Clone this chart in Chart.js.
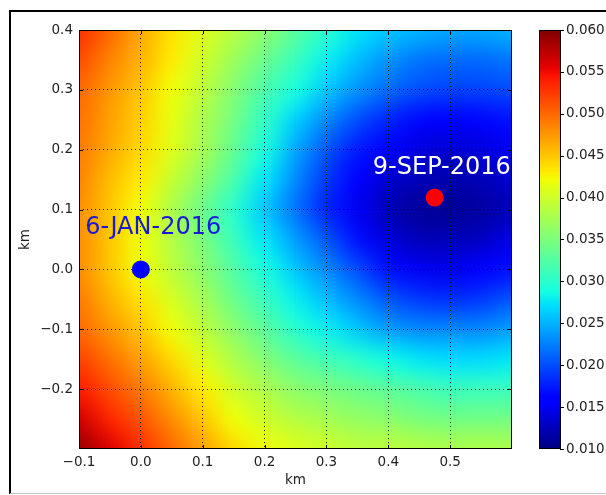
<!DOCTYPE html>
<html lang="en">
<head>
<meta charset="UTF-8">
<title>Field map</title>
<script src="https://cdn.jsdelivr.net/npm/chart.js"></script>
<style>
  body { margin: 0; background: #fff; overflow: hidden; }
  .frame { position: absolute; left: 9px; top: 10px; width: 595px; height: 481px; border-left: 2px solid #000; border-top: 2px solid #000; border-bottom: 1px solid #c8c8c8; }
  #chart { position: absolute; left: 0; top: 0; }
</style>
</head>
<body>
<div class="frame"></div>
<canvas id="chart" width="606" height="495"></canvas>
<script>
// grid nodes of the field (km)
const gridX = [-0.1, -0.05, 0.0, 0.05, 0.1, 0.15, 0.2, 0.25, 0.3, 0.35, 0.4, 0.45, 0.5, 0.55, 0.6];
const gridY = [0.4, 0.35, 0.3, 0.25, 0.2, 0.15, 0.1, 0.05, 0.0, -0.05, -0.1, -0.15, -0.2, -0.25, -0.3];
// values, one row per gridY, one column per gridX
const fieldValues = [
  [0.0530, 0.0500, 0.0465, 0.0435, 0.0410, 0.0385, 0.0360, 0.0330, 0.0300, 0.0275, 0.0260, 0.0250, 0.0245, 0.0245, 0.0250],
  [0.0515, 0.0485, 0.0460, 0.0430, 0.0400, 0.0370, 0.0340, 0.0310, 0.0280, 0.0255, 0.0235, 0.0220, 0.0215, 0.0215, 0.0220],
  [0.0500, 0.0475, 0.0450, 0.0420, 0.0390, 0.0355, 0.0320, 0.0290, 0.0260, 0.0235, 0.0215, 0.0200, 0.0195, 0.0195, 0.0200],
  [0.0495, 0.0470, 0.0445, 0.0415, 0.0380, 0.0345, 0.0305, 0.0265, 0.0230, 0.0200, 0.0180, 0.0165, 0.0160, 0.0165, 0.0170],
  [0.0490, 0.0465, 0.0440, 0.0410, 0.0375, 0.0335, 0.0290, 0.0245, 0.0205, 0.0175, 0.0155, 0.0140, 0.0135, 0.0140, 0.0150],
  [0.0485, 0.0455, 0.0430, 0.0395, 0.0360, 0.0320, 0.0275, 0.0230, 0.0190, 0.0160, 0.0135, 0.0125, 0.0120, 0.0125, 0.0135],
  [0.0480, 0.0450, 0.0420, 0.0380, 0.0340, 0.0300, 0.0260, 0.0220, 0.0180, 0.0150, 0.0125, 0.0112, 0.0110, 0.0115, 0.0125],
  [0.0480, 0.0450, 0.0420, 0.0385, 0.0350, 0.0310, 0.0275, 0.0240, 0.0205, 0.0170, 0.0140, 0.0125, 0.0125, 0.0130, 0.0145],
  [0.0480, 0.0450, 0.0420, 0.0390, 0.0360, 0.0325, 0.0290, 0.0260, 0.0230, 0.0200, 0.0170, 0.0150, 0.0145, 0.0155, 0.0170],
  [0.0490, 0.0460, 0.0435, 0.0405, 0.0375, 0.0340, 0.0310, 0.0280, 0.0255, 0.0230, 0.0205, 0.0190, 0.0185, 0.0190, 0.0205],
  [0.0500, 0.0475, 0.0450, 0.0420, 0.0390, 0.0360, 0.0330, 0.0300, 0.0280, 0.0260, 0.0240, 0.0230, 0.0230, 0.0230, 0.0240],
  [0.0520, 0.0495, 0.0470, 0.0440, 0.0410, 0.0380, 0.0355, 0.0330, 0.0315, 0.0300, 0.0285, 0.0275, 0.0270, 0.0270, 0.0275],
  [0.0540, 0.0515, 0.0490, 0.0460, 0.0430, 0.0400, 0.0380, 0.0360, 0.0350, 0.0340, 0.0330, 0.0320, 0.0310, 0.0310, 0.0310],
  [0.0565, 0.0535, 0.0510, 0.0480, 0.0450, 0.0420, 0.0400, 0.0385, 0.0375, 0.0365, 0.0360, 0.0350, 0.0345, 0.0345, 0.0345],
  [0.0590, 0.0560, 0.0530, 0.0500, 0.0470, 0.0440, 0.0420, 0.0410, 0.0400, 0.0390, 0.0390, 0.0385, 0.0380, 0.0380, 0.0380]
];
const colorMin = 0.010;
const colorMax = 0.060;

const xTicks = [-0.1, 0.0, 0.1, 0.2, 0.3, 0.4, 0.5];
const yTicks = [-0.2, -0.1, 0.0, 0.1, 0.2, 0.3, 0.4];
const cbTicks = [0.010, 0.015, 0.020, 0.025, 0.030, 0.035, 0.040, 0.045, 0.050, 0.055, 0.060];

// marked sites and their labels
const pointX = [0.0, 0.475];
const pointY = [0.0, 0.12];
const pointColors = ['#0000ff', '#ff0000'];
const labelText = ['6-JAN-2016', '9-SEP-2016'];
const labelX = [-0.09, 0.375];
const labelY = [0.06, 0.16];
const labelColors = ['#1a1ad6', '#ffffff'];

const FONT = 'DejaVu Sans';

// matplotlib "jet"
function seg(pts, t) {
  for (let i = 1; i < pts.length; i++) {
    if (t <= pts[i][0]) {
      const a = pts[i - 1], b = pts[i];
      return a[1] + (b[1] - a[1]) * (t - a[0]) / (b[0] - a[0]);
    }
  }
  return pts[pts.length - 1][1];
}
function jet(v) {
  const t = Math.min(1, Math.max(0, (v - colorMin) / (colorMax - colorMin)));
  const r = seg([[0, 0], [0.35, 0], [0.66, 1], [0.89, 1], [1, 0.5]], t);
  const g = seg([[0, 0], [0.125, 0], [0.375, 1], [0.64, 1], [0.91, 0], [1, 0]], t);
  const b = seg([[0, 0.5], [0.11, 1], [0.34, 1], [0.65, 0], [1, 0]], t);
  return [Math.round(r * 255), Math.round(g * 255), Math.round(b * 255)];
}

function fmt(v, d) {
  return v.toFixed(d).replace('-', '\u2212');
}

const heatmap = {
  id: 'heatmap',
  beforeDraw(chart) {
    const {ctx, chartArea: a, scales: {x, y}} = chart;
    const nx = gridX.length, ny = gridY.length;
    const off = document.createElement('canvas');
    off.width = nx; off.height = ny;
    const octx = off.getContext('2d');
    const img = octx.createImageData(nx, ny);
    for (let j = 0; j < ny; j++) {
      for (let i = 0; i < nx; i++) {
        const c = jet(fieldValues[j][i]);
        const k = (j * nx + i) * 4;
        img.data[k] = c[0]; img.data[k + 1] = c[1]; img.data[k + 2] = c[2]; img.data[k + 3] = 255;
      }
    }
    octx.putImageData(img, 0, 0);
    const hx = (gridX[1] - gridX[0]) / 2, hy = (gridY[0] - gridY[1]) / 2;
    const left = x.getPixelForValue(gridX[0] - hx);
    const right = x.getPixelForValue(gridX[nx - 1] + hx);
    const top = y.getPixelForValue(gridY[0] + hy);
    const bottom = y.getPixelForValue(gridY[ny - 1] - hy);
    ctx.save();
    ctx.beginPath();
    ctx.rect(a.left, a.top, a.right - a.left, a.bottom - a.top);
    ctx.clip();
    ctx.imageSmoothingEnabled = true;
    ctx.imageSmoothingQuality = 'high';
    ctx.drawImage(off, left, top, right - left, bottom - top);
    ctx.restore();
  },
  afterDraw(chart) {
    const {ctx, chartArea: a, scales: {x, y, cb}} = chart;
    ctx.save();
    // axes frame + inward ticks
    ctx.strokeStyle = '#000';
    ctx.lineWidth = 1;
    ctx.strokeRect(a.left + 0.5, a.top + 0.5, a.right - a.left - 1, a.bottom - a.top - 1);
    ctx.beginPath();
    xTicks.forEach(v => {
      const px = Math.round(x.getPixelForValue(v)) + 0.5;
      ctx.moveTo(px, a.bottom); ctx.lineTo(px, a.bottom - 4);
      ctx.moveTo(px, a.top); ctx.lineTo(px, a.top + 4);
    });
    yTicks.forEach(v => {
      const py = Math.round(y.getPixelForValue(v)) + 0.5;
      ctx.moveTo(a.left, py); ctx.lineTo(a.left + 4, py);
      ctx.moveTo(a.right, py); ctx.lineTo(a.right - 4, py);
    });
    ctx.stroke();

    // colour bar
    const bx0 = cb.left + 27, bx1 = cb.left + 49;
    for (let py = Math.floor(cb.top); py < Math.ceil(cb.bottom); py++) {
      const c = jet(cb.getValueForPixel(py + 0.5));
      ctx.fillStyle = 'rgb(' + c.join(',') + ')';
      ctx.fillRect(bx0, py, bx1 - bx0, 1);
    }
    ctx.strokeRect(bx0 + 0.5, Math.round(cb.top) + 0.5, bx1 - bx0 - 1, Math.round(cb.bottom - cb.top) - 1);
    ctx.beginPath();
    cbTicks.forEach(v => {
      const py = Math.round(cb.getPixelForValue(v)) + 0.5;
      ctx.moveTo(bx1 - 1, py); ctx.lineTo(bx1 + 3, py);
    });
    ctx.stroke();

    // site labels
    ctx.font = '24px "' + FONT + '"';
    ctx.textAlign = 'left';
    ctx.textBaseline = 'alphabetic';
    labelText.forEach((t, i) => {
      ctx.fillStyle = labelColors[i];
      ctx.fillText(t, x.getPixelForValue(labelX[i]), y.getPixelForValue(labelY[i]));
    });
    ctx.restore();
  }
};

const tickFont = {family: FONT, size: 13.5};
const gridOpts = {color: 'rgba(0,0,0,0.85)', lineWidth: 1, drawTicks: false, z: -1};

new Chart(document.getElementById('chart'), {
  type: 'scatter',
  data: {
    datasets: [{
      data: pointX.map((v, i) => ({x: v, y: pointY[i]})),
      backgroundColor: pointColors,
      borderWidth: 0,
      pointRadius: 9,
      pointHoverRadius: 9
    }]
  },
  options: {
    responsive: false,
    animation: false,
    events: [],
    layout: {padding: {top: 30, left: 0, right: 0, bottom: 0}},
    plugins: {legend: {display: false}, tooltip: {enabled: false}},
    scales: {
      x: {
        type: 'linear', min: -0.1, max: 0.6,
        afterBuildTicks: s => { s.ticks = xTicks.map(v => ({value: v})); },
        afterFit: s => { s.height = 46; },
        ticks: {font: tickFont, color: '#222', padding: 5, maxRotation: 0, callback: v => fmt(v, 1)},
        grid: gridOpts,
        border: {display: false, dash: [1, 3]},
        title: {display: true, text: 'km', font: tickFont, color: '#222', padding: {top: 0, bottom: 6}}
      },
      y: {
        type: 'linear', position: 'left', min: -0.3, max: 0.4,
        afterBuildTicks: s => { s.ticks = yTicks.map(v => ({value: v})); },
        afterFit: s => { s.width = 79; },
        ticks: {font: tickFont, color: '#222', padding: 6, callback: v => fmt(v, 1)},
        grid: gridOpts,
        border: {display: false, dash: [1, 3]},
        title: {display: true, text: 'km', font: tickFont, color: '#222', padding: {top: 17, bottom: 0}}
      },
      cb: {
        type: 'linear', axis: 'y', position: 'right', min: colorMin, max: colorMax,
        afterBuildTicks: s => { s.ticks = cbTicks.map(v => ({value: v})); },
        afterFit: s => { s.width = 94; },
        ticks: {font: tickFont, color: '#222', padding: 4, callback: v => fmt(v, 3)},
        // invisible tick marks only push the labels past the colour bar
        grid: {display: true, drawOnChartArea: false, drawTicks: true, tickLength: 50, tickColor: 'rgba(0,0,0,0)'},
        border: {display: false}
      }
    }
  },
  plugins: [heatmap]
});
</script>
</body>
</html>
